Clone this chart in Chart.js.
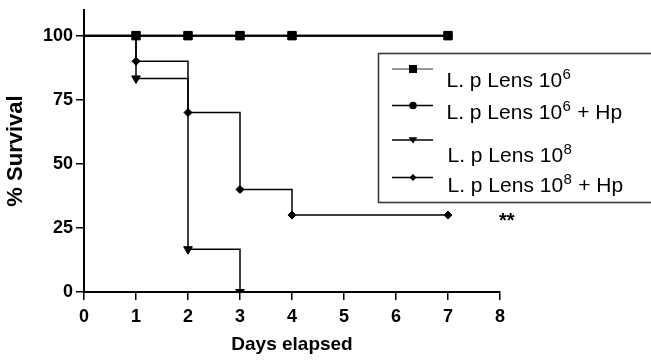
<!DOCTYPE html>
<html>
<head>
<meta charset="utf-8">
<script src="https://cdn.jsdelivr.net/npm/chart.js@4/dist/chart.umd.min.js"></script>
<style>
  html, body { margin: 0; padding: 0; background: #fff; }
  #wrap { width: 651px; height: 360px; position: relative; }
</style>
</head>
<body>
<div id="wrap"><canvas id="c" width="651" height="360"></canvas></div>
<script>
// ---- data ----
const xTicks = [0, 1, 2, 3, 4, 5, 6, 7, 8];
const yTicks = [0, 25, 50, 75, 100];

const lens6Days = [0, 1, 2, 3, 4, 7];
const lens6Surv = [100, 100, 100, 100, 100, 100];

const lens6HpDays = [0, 1, 2, 3, 4, 7];
const lens6HpSurv = [100, 100, 100, 100, 100, 100];

const lens8Days = [0, 1, 2, 3];
const lens8Surv = [100, 83.3, 16.7, 0];

const lens8HpDays = [0, 1, 2, 3, 4, 7];
const lens8HpSurv = [100, 90, 70, 40, 30, 30];

const legendMain = ['L. p Lens 10', 'L. p Lens 10', 'L. p Lens 10', 'L. p Lens 10'];
const legendSup = ['6', '6', '8', '8'];
const legendTail = ['', ' + Hp', '', ' + Hp'];

const xTitle = 'Days elapsed';
const yTitle = '% Survival';
const significance = '**';

// ---- helpers ----
const FONT = 'Arial, "Liberation Sans", Helvetica, sans-serif';
function pts(xs, ys) { return xs.map((x, i) => ({ x: x, y: ys[i] })); }
function radii(xs, r) { return xs.map((x, i) => (i === 0 ? 0 : r)); }

function mk(label, xs, ys, style, r, rot, bw) {
  return {
    label: label,
    data: pts(xs, ys),
    stepped: true,
    borderColor: '#000',
    backgroundColor: '#000',
    borderWidth: bw,
    pointStyle: style,
    pointRadius: radii(xs, r),
    pointHoverRadius: radii(xs, r),
    pointRotation: rot,
    pointBorderWidth: 1,
    pointBackgroundColor: '#000',
    pointBorderColor: '#000',
    clip: { left: 10, top: 10, right: 10, bottom: 0 },
    fill: false,
    tension: 0
  };
}

const datasets = [
  mk('lens6', lens6Days, lens6Surv, 'rect', 6, 0, 2),
  mk('lens6hp', lens6HpDays, lens6HpSurv, 'circle', 4, 0, 2),
  mk('lens8', lens8Days, lens8Surv, 'triangle', 5, 180, 1.5),
  mk('lens8hp', lens8HpDays, lens8HpSurv, 'rectRot', 4, 0, 1.5)
];

function drawMarker(ctx, style, x, y, r) {
  ctx.beginPath();
  if (style === 'rect') {
    ctx.rect(x - r, y - r, 2 * r, 2 * r);
  } else if (style === 'circle') {
    ctx.arc(x, y, r, 0, Math.PI * 2);
  } else if (style === 'triangle') {
    ctx.moveTo(x - r * 1.1, y - r * 0.7);
    ctx.lineTo(x + r * 1.1, y - r * 0.7);
    ctx.lineTo(x, y + r * 0.9);
    ctx.closePath();
  } else if (style === 'rectRot') {
    ctx.moveTo(x, y - r);
    ctx.lineTo(x + r, y);
    ctx.lineTo(x, y + r);
    ctx.lineTo(x - r, y);
    ctx.closePath();
  }
  ctx.fillStyle = '#000';
  ctx.fill();
}

const legendPlugin = {
  id: 'customLegend',
  afterDraw(chart) {
    const ctx = chart.ctx;
    ctx.save();
    // box
    ctx.strokeStyle = '#3a3a3a';
    ctx.lineWidth = 1.6;
    ctx.strokeRect(378.5, 53.5, 290, 149);

    const rows = [
      { lineY: 69, base: 86.5, tx: 446.5, col: '#777', style: 'rect', r: 4 },
      { lineY: 105.5, base: 118.5, tx: 446.5, col: '#000', style: 'circle', r: 3.8 },
      { lineY: 140, base: 162, tx: 447.5, col: '#000', style: 'triangle', r: 4 },
      { lineY: 177.5, base: 191.5, tx: 447.5, col: '#000', style: 'rectRot', r: 3.5 }
    ];
    rows.forEach((row, i) => {
      ctx.strokeStyle = row.col;
      ctx.lineWidth = 1.3;
      ctx.beginPath();
      ctx.moveTo(392, row.lineY);
      ctx.lineTo(433, row.lineY);
      ctx.stroke();
      drawMarker(ctx, row.style, 413, row.lineY, row.r);

      ctx.fillStyle = '#000';
      ctx.textBaseline = 'alphabetic';
      ctx.textAlign = 'left';
      ctx.font = '21px ' + FONT;
      ctx.fillText(legendMain[i], row.tx, row.base);
      let w = ctx.measureText(legendMain[i]).width;
      ctx.font = '15px ' + FONT;
      ctx.fillText(legendSup[i], row.tx + w + 0.5, row.base - 8);
      const ws = ctx.measureText(legendSup[i]).width;
      ctx.font = '21px ' + FONT;
      ctx.fillText(legendTail[i], row.tx + w + ws + 1, row.base);
    });

    // significance mark
    const xs = chart.scales.x, ys = chart.scales.y;
    ctx.font = 'bold 20px ' + FONT;
    ctx.textAlign = 'center';
    ctx.fillText(significance, xs.getPixelForValue(8.13), ys.getPixelForValue(30) + 12);
    ctx.restore();
  }
};

const tickFont = { family: FONT, size: 18, weight: 'bold' };

new Chart(document.getElementById('c'), {
  type: 'line',
  data: { datasets: datasets },
  options: {
    responsive: false,
    animation: false,
    events: [],
    layout: { padding: { top: 10, right: 151, left: 0, bottom: 0 } },
    plugins: { legend: { display: false }, tooltip: { enabled: false } },
    scales: {
      x: {
        type: 'linear',
        min: 0, max: 8,
        afterBuildTicks: (s) => { s.ticks = xTicks.map(v => ({ value: v })); },
        afterFit: (s) => { s.height = 68; s.paddingLeft = 0; s.paddingRight = 0; },
        ticks: { color: '#000', font: tickFont, padding: 6, maxRotation: 0, autoSkip: false },
        grid: { drawOnChartArea: false, drawTicks: true, tickLength: 8, color: '#000', lineWidth: 1.5 },
        border: { display: true, color: '#000', width: 2 },
        title: { display: true, text: xTitle, color: '#000', font: { family: FONT, size: 19, weight: 'bold' }, padding: { top: 0, bottom: 4 } }
      },
      y: {
        type: 'linear',
        min: 0, max: 110,
        afterBuildTicks: (s) => { s.ticks = yTicks.map(v => ({ value: v })); },
        afterFit: (s) => { s.width = 84; s.paddingTop = 0; s.paddingBottom = 0; },
        ticks: { color: '#000', font: tickFont, padding: 3, autoSkip: false },
        grid: { drawOnChartArea: false, drawTicks: true, tickLength: 8, color: '#000', lineWidth: 1.5 },
        border: { display: true, color: '#000', width: 2 },
        title: { display: true, text: yTitle, color: '#000', font: { family: FONT, size: 22, weight: 'bold' }, padding: { top: 3, bottom: 0 } }
      }
    }
  },
  plugins: [legendPlugin]
});
</script>
</body>
</html>
